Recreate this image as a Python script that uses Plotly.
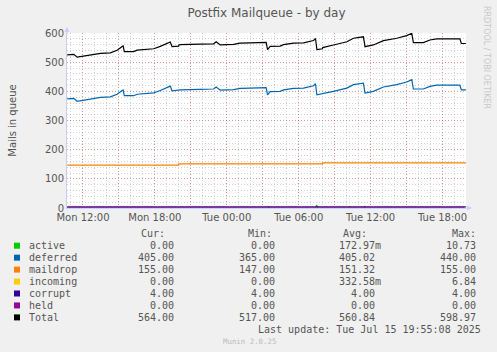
import plotly.graph_objects as go
import pandas as pd

# ---------------- data ----------------
deferred_times = ["2025-07-14 10:41", "2025-07-14 11:14", "2025-07-14 11:31", "2025-07-14 11:47",
                  "2025-07-14 12:21", "2025-07-14 13:28", "2025-07-14 14:17", "2025-07-14 14:51",
                  "2025-07-14 15:16", "2025-07-14 15:21", "2025-07-14 15:27", "2025-07-14 16:14",
                  "2025-07-14 16:31", "2025-07-14 17:21", "2025-07-14 17:54", "2025-07-14 18:27",
                  "2025-07-14 19:01", "2025-07-14 19:17", "2025-07-14 19:26", "2025-07-14 20:07",
                  "2025-07-14 21:47", "2025-07-14 22:54", "2025-07-14 23:07", "2025-07-14 23:27",
                  "2025-07-15 00:34", "2025-07-15 01:07", "2025-07-15 01:57", "2025-07-15 03:17",
                  "2025-07-15 03:24", "2025-07-15 03:37", "2025-07-15 04:27", "2025-07-15 04:44",
                  "2025-07-15 05:34", "2025-07-15 06:24", "2025-07-15 07:14", "2025-07-15 07:24",
                  "2025-07-15 07:31", "2025-07-15 08:21", "2025-07-15 08:54", "2025-07-15 10:01",
                  "2025-07-15 10:34", "2025-07-15 11:24", "2025-07-15 11:32", "2025-07-15 12:14",
                  "2025-07-15 13:04", "2025-07-15 14:11", "2025-07-15 15:01", "2025-07-15 15:26",
                  "2025-07-15 15:34", "2025-07-15 16:24", "2025-07-15 16:57", "2025-07-15 17:31",
                  "2025-07-15 19:27", "2025-07-15 19:34", "2025-07-15 19:57"]
deferred_values = [374, 376, 366, 368, 373, 379, 381, 390, 403, 405, 385, 385, 390, 393, 395, 403,
                   412, 418, 402, 405, 407, 408, 415, 404, 406, 410, 411, 413, 388, 399, 400, 405,
                   410, 411, 419, 426, 388, 394, 400, 411, 423, 428, 394, 400, 415, 423, 432, 440,
                   408, 408, 417, 421, 421, 405, 405]

total_times = ["2025-07-14 10:41", "2025-07-14 11:14", "2025-07-14 11:31", "2025-07-14 11:47",
               "2025-07-14 12:21", "2025-07-14 13:28", "2025-07-14 14:17", "2025-07-14 14:51",
               "2025-07-14 15:16", "2025-07-14 15:21", "2025-07-14 15:27", "2025-07-14 16:14",
               "2025-07-14 16:31", "2025-07-14 17:21", "2025-07-14 17:54", "2025-07-14 18:27",
               "2025-07-14 19:01", "2025-07-14 19:17", "2025-07-14 19:26", "2025-07-14 19:59",
               "2025-07-14 20:00", "2025-07-14 20:07", "2025-07-14 21:47", "2025-07-14 22:54",
               "2025-07-14 23:07", "2025-07-14 23:27", "2025-07-15 00:34", "2025-07-15 01:07",
               "2025-07-15 01:57", "2025-07-15 03:17", "2025-07-15 03:24", "2025-07-15 03:37",
               "2025-07-15 04:27", "2025-07-15 04:44", "2025-07-15 05:34", "2025-07-15 06:24",
               "2025-07-15 07:14", "2025-07-15 07:24", "2025-07-15 07:31", "2025-07-15 07:59",
               "2025-07-15 08:00", "2025-07-15 08:21", "2025-07-15 08:54", "2025-07-15 10:01",
               "2025-07-15 10:34", "2025-07-15 11:24", "2025-07-15 11:32", "2025-07-15 12:14",
               "2025-07-15 13:04", "2025-07-15 14:11", "2025-07-15 15:01", "2025-07-15 15:26",
               "2025-07-15 15:34", "2025-07-15 16:24", "2025-07-15 16:57", "2025-07-15 17:31",
               "2025-07-15 19:27", "2025-07-15 19:34", "2025-07-15 19:57"]
total_values = [525, 527, 517, 519, 524, 530, 532, 541, 554, 556, 536, 536, 541, 544, 546, 554,
                563, 569, 553, 555, 559, 560, 562, 563, 570, 559, 561, 565, 566, 568, 543, 554,
                555, 560, 565, 566, 574, 581, 543, 546, 550, 553, 559, 570, 582, 587, 553, 559,
                574, 582, 591, 599, 567, 567, 576, 580, 580, 564, 564]

maildrop_times = ["2025-07-14 10:41", "2025-07-14 19:59", "2025-07-14 20:00", "2025-07-15 07:59",
                  "2025-07-15 08:00", "2025-07-15 19:57"]
maildrop_values = [147, 147, 151, 151, 155, 155]

active_times = ["2025-07-14 10:41", "2025-07-15 03:25", "2025-07-15 03:30", "2025-07-15 03:35",
                "2025-07-15 07:25", "2025-07-15 07:30", "2025-07-15 07:35", "2025-07-15 11:25",
                "2025-07-15 11:30", "2025-07-15 11:35", "2025-07-15 19:57"]
active_values = [0, 0, 4, 0, 0, 10.73, 0, 0, 5, 0, 0]

incoming_times = ["2025-07-14 10:41", "2025-07-15 10:10", "2025-07-15 10:15", "2025-07-15 10:20",
                  "2025-07-15 19:57"]
incoming_values = [0, 0, 6.84, 0, 0]

corrupt_times = ["2025-07-14 10:41", "2025-07-15 19:57"]
corrupt_values = [4, 4]
held_times = ["2025-07-14 10:41", "2025-07-15 19:57"]
held_values = [0, 0]

series_names = ["active", "deferred", "maildrop", "incoming", "corrupt", "held", "Total"]
cur_vals = ["0.00", "405.00", "155.00", "0.00", "4.00", "0.00", "564.00"]
min_vals = ["0.00", "365.00", "147.00", "0.00", "4.00", "0.00", "517.00"]
avg_vals = ["172.97m", "405.02", "151.32", "332.58m", "4.00", "0.00", "560.84"]
max_vals = ["10.73", "440.00", "155.00", "6.84", "4.00", "0.00", "598.97"]

x_start = "2025-07-14 10:40"
x_end = "2025-07-15 19:57:30"
tick_times = pd.date_range("2025-07-14 12:00", "2025-07-15 18:00", freq="3h")
tick_labels = [t.strftime("%a %H:%M") if t.hour % 6 == 0 else "" for t in tick_times]
y_ticks = [0, 100, 200, 300, 400, 500, 600]

# ---------------- style ----------------
colors = {"active": "#00CC00", "deferred": "#0066B3", "maildrop": "#FF8000",
          "incoming": "#FFCC00", "corrupt": "#330099", "held": "#990099", "Total": "#000000"}
W, H = 497, 352
L, R, T, B = 67, 466, 33, 208
TXT = "#555555"
SANS = "DejaVu Sans"
MONO = "DejaVu Sans Mono"


def pxx(x):
    return (x - L) / (R - L)


def pyy(y):
    return (B - y) / (B - T)


fig = go.Figure()
series = [
    ("active", active_times, active_values),
    ("deferred", deferred_times, deferred_values),
    ("maildrop", maildrop_times, maildrop_values),
    ("incoming", incoming_times, incoming_values),
    ("corrupt", corrupt_times, corrupt_values),
    ("held", held_times, held_values),
    ("Total", total_times, total_values),
]
for name, tx, vy in series:
    fig.add_trace(go.Scatter(x=pd.to_datetime(tx), y=vy, mode="lines", name=name,
                             line=dict(color=colors[name], width=1.2), showlegend=False,
                             hoverinfo="skip"))

grid_major = "rgba(255,0,0,0.28)"
grid_minor = "rgba(140,140,140,0.40)"

fig.update_layout(
    width=W, height=H,
    margin=dict(l=L, r=W - R, t=T, b=H - B, pad=0),
    paper_bgcolor="#F0F0F0",
    plot_bgcolor="#FFFFFF",
    font=dict(family=SANS, size=10, color=TXT),
    title=dict(text="Postfix Mailqueue - by day", x=0.5, xref="paper", y=1 - 13 / H,
               yref="container", xanchor="center", yanchor="middle",
               font=dict(family=SANS, size=12, color=TXT)),
    xaxis=dict(range=[pd.Timestamp(x_start), pd.Timestamp(x_end)],
               tickmode="array", tickvals=tick_times, ticktext=tick_labels,
               showgrid=True, gridcolor=grid_major, griddash="1px,2px", gridwidth=1,
               minor=dict(dtick=3600000, showgrid=True, gridcolor=grid_minor, griddash="1px,2px",
                          gridwidth=1, ticks=""),
               ticks="", showline=True, linecolor="#CCCCFF", linewidth=1,
               zeroline=False, tickfont=dict(family=SANS, size=10, color=TXT)),
    yaxis=dict(range=[0, 600], tickmode="array", tickvals=y_ticks,
               showgrid=True, gridcolor=grid_major, griddash="1px,2px", gridwidth=1,
               minor=dict(dtick=20, showgrid=True, gridcolor=grid_minor, griddash="1px,2px",
                          gridwidth=1, ticks=""),
               ticks="", showline=True, linecolor="#CCCCFF", linewidth=1,
               zeroline=False, tickfont=dict(family=SANS, size=10, color=TXT),
               title=dict(text="Mails in queue", font=dict(family=SANS, size=10, color=TXT),
                          standoff=26)),
)

ann = []
shapes = []


def text(x, y, s, anchor="left", size=10, family=MONO, color=TXT, angle=0):
    ann.append(dict(x=pxx(x), y=pyy(y), xref="paper", yref="paper", text=s, showarrow=False,
                    xanchor=anchor, yanchor="middle", textangle=angle,
                    font=dict(family=family, size=size, color=color)))


# headers
header_y = 233.3
text(167, header_y, "Cur:", "right")
text(273.5, header_y, "Min:", "right")
text(340.5, header_y, "Avg:", "left")
text(478, header_y, "Max:", "right")

row_y0 = 245.7
row_dy = 11.95
for i, name in enumerate(series_names):
    y = row_y0 + i * row_dy
    shapes.append(dict(type="rect", xref="paper", yref="paper",
                       x0=pxx(14), x1=pxx(20), y0=pyy(y + 3), y1=pyy(y - 3),
                       fillcolor=colors[name], line=dict(width=0)))
    text(26.5, y, name, "left")
    text(175.5, y, cur_vals[i], "right")
    text(277, y, min_vals[i], "right")
    av = avg_vals[i] if avg_vals[i].endswith("m") else avg_vals[i] + "\u00a0"
    text(383, y, av, "right")
    text(478, y, max_vals[i], "right")

text(482.5, 329.3, "Last update: Tue Jul 15 19:55:08 2025", "right")
text(249, 341.5, "Munin 2.0.25", "center", size=7.4, color="#BBBBBB")
text(487, 57, "RRDTOOL / TOBI OETIKER", "center", size=8, family=SANS, color="#C8C8C8", angle=90)

# axis arrows
ann.append(dict(x=pxx(L), y=pyy(27), xref="paper", yref="paper", text="", showarrow=True,
                ax=0, ay=9, arrowhead=2, arrowsize=1, arrowwidth=1, arrowcolor="#CCCCFF"))
ann.append(dict(x=pxx(472), y=pyy(B), xref="paper", yref="paper", text="", showarrow=True,
                ax=-9, ay=0, arrowhead=2, arrowsize=1, arrowwidth=1, arrowcolor="#CCCCFF"))

fig.update_layout(annotations=ann, shapes=shapes)
fig.write_html("out.html")
